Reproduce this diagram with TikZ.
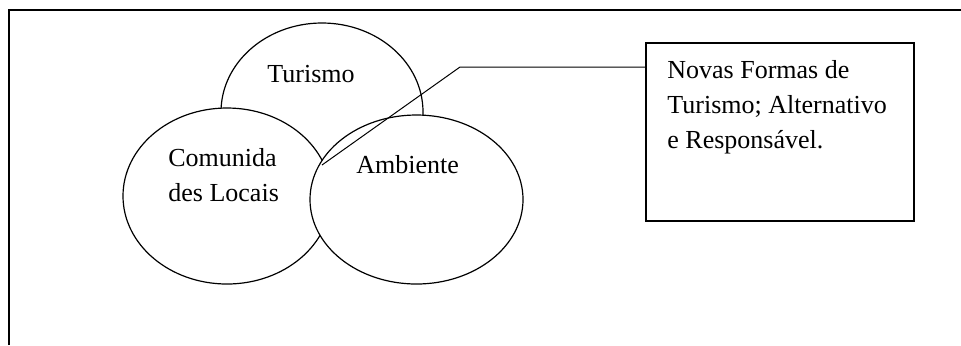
\documentclass[tikz,border=0pt]{standalone}
\usepackage{fontspec}
\setmainfont{Liberation Serif}
\usetikzlibrary{shapes.geometric}

\tikzset{
  blob/.style={ellipse, draw, fill=white, line width=0.6pt, inner sep=0pt},
  lbl/.style={font=\fontsize{13}{17.5}\selectfont, inner sep=0pt, align=left, anchor=base west},
}

\begin{document}
\begin{tikzpicture}[x=0.5pt,y=-0.5pt]
    % Keep the page size
    \useasboundingbox (0,0) rectangle (961,345);

    % Outer frame
    \draw[line width=0.8pt] (9,345) -- (9,10) -- (961,10);

    % Draw ellipses
    \node[blob, minimum width=101pt, minimum height=89pt] (tur) at (322,112) {};
    \node[blob, minimum width=104pt, minimum height=88pt] (com) at (227,196) {};
    \node[blob, minimum width=106.5pt, minimum height=84.5pt] (amb) at (416.5,199.5) {};

    % Labels (base = last line)
    \node[lbl] (turtxt) at (267,82) {Turismo};
    \node[lbl] (comtxt) at (168,201) {Comunida\\des Locais};
    \node[lbl] (ambtxt) at (356,173) {Ambiente};

    % Box on the right
    \node[draw, line width=0.8pt, minimum width=134pt, minimum height=89pt, inner sep=0pt] (box) at (780,132) {};
    \node[lbl] (boxtxt) at (667,148) {Novas Formas de\\Turismo; Alternativo\\e Responsável.};

    % Connector
    \coordinate (bend) at (460,67);
    \coordinate (tip) at (322,165);
    \draw[line width=0.5pt] (box.west |- bend) -- (bend) -- (tip);
\end{tikzpicture}
\end{document}
